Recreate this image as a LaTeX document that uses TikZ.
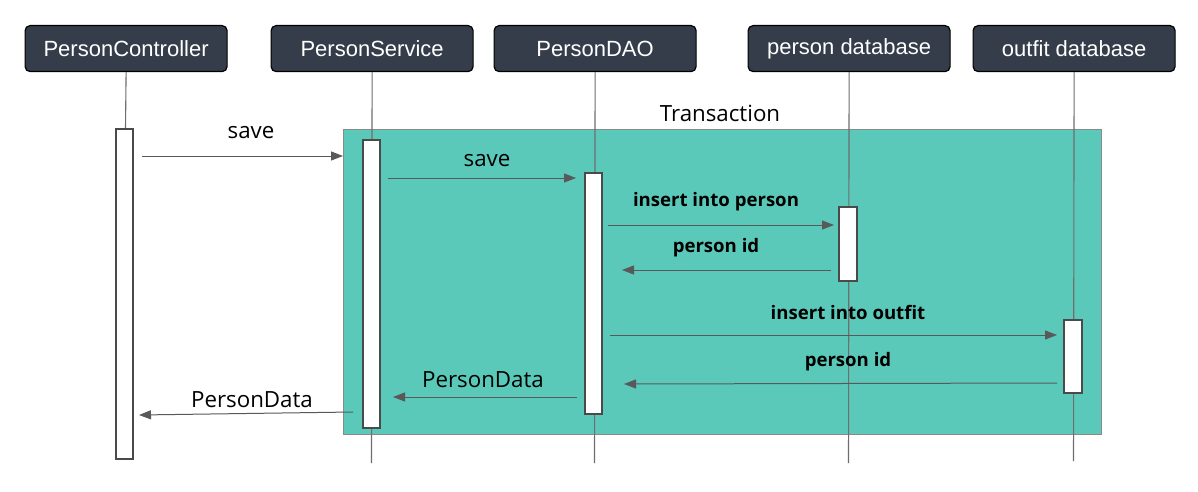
\documentclass[tikz,border=0pt]{standalone}
\usepackage{fontspec}
\setmainfont{Open Sans}
\newfontfamily\hdrfont{Liberation Sans}
\usetikzlibrary{arrows.meta}
\definecolor{hdr}{HTML}{363D4A}
\definecolor{txfill}{HTML}{5BC9B9}
\definecolor{txline}{HTML}{8A8A8A}
\definecolor{msgc}{HTML}{595959}
\definecolor{lifec}{HTML}{6E6E6E}
\definecolor{actc}{HTML}{4A4A4A}
\begin{document}
\begin{tikzpicture}[x=1pt,y=-1pt,
  header/.style={draw=black, line width=1.2pt, fill=hdr, rounded corners=5pt, text=white,
    font=\hdrfont\fontsize{22}{26}\selectfont, minimum height=46pt, minimum width=202pt, inner sep=0pt, anchor=north west},
  life/.style={draw=lifec, line width=1.1pt},
  act/.style={draw=actc, line width=1.8pt, fill=white},
  msg/.style={draw=msgc, line width=1pt, -{Triangle[length=12pt,width=9pt]}},
  lbl/.style={font=\fontsize{22.3}{26}\selectfont, text=black, inner sep=0pt},
  blbl/.style={font=\bfseries\fontsize{18.6}{22}\selectfont, text=black, inner sep=0pt}]
\useasboundingbox[fill=white] (0,0) rectangle (1198,492);

% transaction frame
\draw[draw=txline, line width=1pt, fill=txfill] (343,129) rectangle (1101,434);
\node[lbl] (tx) at (720,113) {Transaction};

% headers
\node[header] (pc) at (24.5,25) {\raisebox{-1.5pt}{PersonController}};
\node[header] (ps) at (270.5,25) {\raisebox{-1.5pt}{PersonService}};
\node[header] (pd) at (493.5,25) {\raisebox{-1.5pt}{PersonDAO}};
\node[header] (pdb) at (747.5,25) {\raisebox{-1.5pt}{person database}};
\node[header] (odb) at (972.5,25) {\raisebox{-1.5pt}{outfit database}};

% lifeline end points
\coordinate (pcA) at (125.5,129);
\coordinate (psE) at (371.5,463);
\coordinate (pdE) at (594.5,463);
\coordinate (pdbE) at (848.5,463);
\coordinate (odbE) at (1073.5,461);

\draw[life] (pc.south) -- (pcA);
\draw[life] (ps.south) -- (psE);
\draw[life] (pd.south) -- (pdE);
\draw[life] (pdb.south) -- (pdbE);
\draw[life] (odb.south) -- (odbE);

% activations
\draw[act] (116,129) rectangle (133,459);
\draw[act] (363,140) rectangle (380,428);
\draw[act] (585,173) rectangle (602,414);
\draw[act] (839,207) rectangle (857,281);
\draw[act] (1064,320) rectangle (1082,393);

% messages
\coordinate (m1a) at (142,156); \coordinate (m1b) at (343,156);
\draw[msg] (m1a) -- (m1b);
\node[lbl] (l1) at (251,133) {save};

\coordinate (m2a) at (388,178); \coordinate (m2b) at (576,178);
\draw[msg] (m2a) -- (m2b);
\node[lbl] (l2) at (487,161) {save};

\coordinate (m3a) at (608,225); \coordinate (m3b) at (834,225);
\draw[msg] (m3a) -- (m3b);
\node[blbl] (l3) at (716,202) {insert into person};

\coordinate (m4a) at (831,270); \coordinate (m4b) at (622,270);
\draw[msg] (m4a) -- (m4b);
\node[blbl] (l4) at (716,248) {person id};

\coordinate (m5a) at (610,335); \coordinate (m5b) at (1057,335);
\draw[msg] (m5a) -- (m5b);
\node[blbl] (l5) at (848,312) {insert into outfit};

\coordinate (m6a) at (1057,383); \coordinate (m6b) at (624,384);
\draw[msg] (m6a) -- (m6b);
\node[blbl] (l6) at (848,362) {person id};

\coordinate (m7a) at (577,397); \coordinate (m7b) at (393,397);
\draw[msg] (m7a) -- (m7b);
\node[lbl] (l7) at (483,380) {PersonData};

\coordinate (m8a) at (353,412); \coordinate (m8b) at (139,415);
\draw[msg] (m8a) -- (m8b);
\node[lbl] (l8) at (252,400) {PersonData};
\end{tikzpicture}
\end{document}
